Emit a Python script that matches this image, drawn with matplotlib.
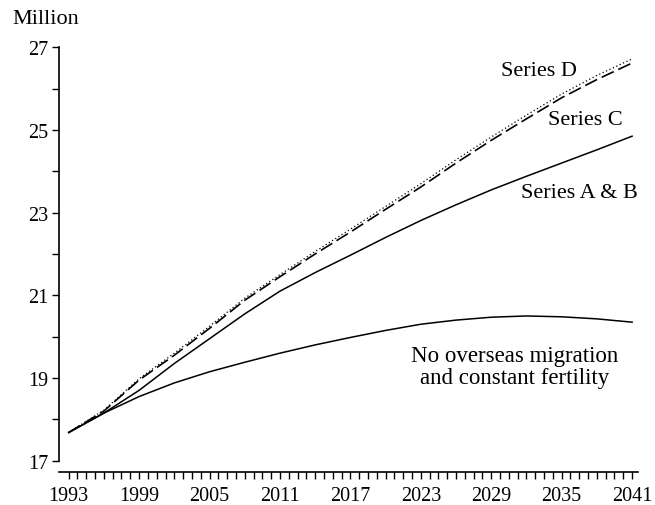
import numpy as np
import matplotlib
matplotlib.use("Agg")
import matplotlib.pyplot as plt

plt.rcParams['font.family'] = ['Liberation Serif', 'DejaVu Serif']

# projected population, million
years = [1993, 1996, 1999, 2002, 2005, 2008, 2011, 2014, 2017,
         2020, 2023, 2026, 2029, 2032, 2035, 2038, 2041]
series_d = [17.68, 18.22, 18.98, 19.60, 20.25, 20.93, 21.50, 22.06, 22.60,
            23.15, 23.70, 24.28, 24.83, 25.36, 25.87, 26.32, 26.72]
series_c = [17.68, 18.20, 18.95, 19.55, 20.20, 20.88, 21.45, 22.00, 22.53,
            23.08, 23.62, 24.20, 24.75, 25.27, 25.78, 26.22, 26.62]
series_ab = [17.68, 18.15, 18.70, 19.35, 19.95, 20.55, 21.10, 21.55, 21.97,
             22.40, 22.81, 23.19, 23.55, 23.88, 24.20, 24.52, 24.85]
no_migration = [17.68, 18.15, 18.55, 18.88, 19.15, 19.38, 19.60, 19.80, 19.98,
                20.15, 20.30, 20.40, 20.47, 20.50, 20.48, 20.43, 20.35]

xticks = list(range(1993, 2042, 6))
yticks = [17, 19, 21, 23, 25, 27]

fig = plt.figure(figsize=(6.55, 5.06), dpi=100)
ax = fig.add_axes([0.0905, 0.0877, 0.8835, 0.8168])

ax.plot(years, series_d, color='black', lw=0.9, linestyle=(0, (1, 2)))
ax.plot(years, series_c, color='black', lw=1.2, linestyle=(0, (8, 3)))
ax.plot(years, series_ab, color='black', lw=1.1)
ax.plot(years, no_migration, color='black', lw=1.1)

ax.set_xlim(1992.2, 2041.5)
ax.set_ylim(17, 27)
ax.set_xticks(xticks)
ax.set_xticks(np.arange(1993, 2041.1, 0.75), minor=True)
ax.set_yticks(yticks)
ax.set_yticks([18, 20, 22, 24, 26], minor=True)
ax.tick_params(axis='both', which='both', direction='out', length=5, width=1,
               labelsize=14.5, colors='black')
ax.tick_params(axis='x', which='major', pad=5)
ax.tick_params(axis='y', which='major', pad=3)

for s in ['top', 'right']:
    ax.spines[s].set_visible(False)
ax.spines['bottom'].set_position(('outward', 8.4))
ax.spines['left'].set_linewidth(1.2)
ax.spines['bottom'].set_linewidth(1.2)

ax.text(2033.1, 26.43, 'Series D', fontsize=16, ha='center', va='center')
ax.text(2037.0, 25.26, 'Series C', fontsize=16, ha='center', va='center')
ax.text(2036.5, 23.48, 'Series A & B', fontsize=16, ha='center', va='center')
ax.text(2031.0, 19.27, 'No overseas migration\nand constant fertility',
        fontsize=16.5, ha='center', va='center', linespacing=1.05)
fig.text(12 / 655, 1 - 19 / 506, 'Million', fontsize=16, ha='left', va='center')

fig.savefig('out.png', dpi=100)
